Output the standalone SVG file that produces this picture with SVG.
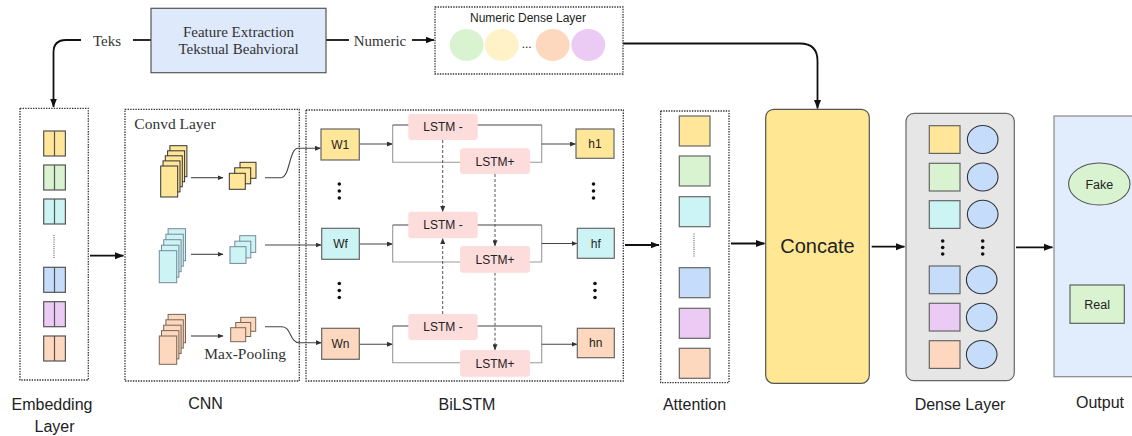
<svg xmlns="http://www.w3.org/2000/svg" width="1132" height="436" viewBox="0 0 1132 436">
<style>
.dot{fill:none;stroke:#333;stroke-width:1.3;stroke-dasharray:1.4 1.2}
.serif{font-family:"Liberation Serif","Times New Roman",serif;fill:#333}
.sans{font-family:"Liberation Sans",Arial,sans-serif;fill:#222}
.lbl{font-family:"Liberation Sans",Arial,sans-serif;font-size:16px;fill:#222;text-anchor:middle}
.box{stroke:#666;stroke-width:1.2}
.yel{fill:#ffe699}.grn{fill:#d9f2cf}.cyn{fill:#ccf4f4}.blu{fill:#c5dcfb}.pur{fill:#ebcbf4}.org{fill:#fdd8bf}
.lstm{fill:#fddcdc;stroke:none}
.lt{font-family:"Liberation Sans",Arial,sans-serif;font-size:12px;fill:#222;text-anchor:middle}
.main{fill:none;stroke:#111;stroke-width:1.8}
.thin{fill:none;stroke:#444;stroke-width:1.1}
.light{fill:none;stroke:#999;stroke-width:1.1}
.dash{fill:none;stroke:#555;stroke-width:1;stroke-dasharray:3 2}
.vd{fill:none;stroke:#444;stroke-width:1;stroke-dasharray:1 1.2}
</style>
<defs>
<marker id="ah" markerUnits="userSpaceOnUse" markerWidth="9" markerHeight="8" refX="8.5" refY="4" orient="auto"><path d="M0,0.5 L9,4 L0,7.5 z" fill="#111"/></marker>
<marker id="as" markerUnits="userSpaceOnUse" markerWidth="6" markerHeight="5" refX="5.5" refY="2.5" orient="auto"><path d="M0,0 L6,2.5 L0,5 z" fill="#333"/></marker>
</defs>

<g id="connectors">
<path class="main" d="M81,40 H66 Q53.5,40 53.5,52.5 V107" marker-end="url(#ah)"/>
<path class="main" d="M133,40 H151"/>
<path class="main" d="M326,40 H349"/>
<path class="main" d="M412,40 H434" marker-end="url(#ah)"/>
<path class="main" d="M623,43.5 H800 Q817.5,43.5 817.5,61 V108.5" marker-end="url(#ah)"/>
<path class="main" d="M90,255.7 H123.5" marker-end="url(#ah)"/>
<path class="main" d="M625,245 H659" marker-end="url(#ah)"/>
<path class="main" d="M731,243.5 H764.5" marker-end="url(#ah)"/>
<path class="main" d="M871.7,246.7 H904.5" marker-end="url(#ah)"/>
<path class="main" d="M1016,247.3 H1052.5" marker-end="url(#ah)"/>
<!-- CNN internal -->
<path class="thin" d="M191,177.7 H223" marker-end="url(#as)"/>
<path class="thin" d="M191,254.3 H223" marker-end="url(#as)"/>
<path class="thin" d="M191,336 H223" marker-end="url(#as)"/>
<path class="thin" d="M265,177.7 H281 C290,177.7 289,148.3 298,148.3 H320.5" marker-end="url(#as)"/>
<path class="thin" d="M265,245 H321" marker-end="url(#as)"/>
<path class="thin" d="M265,326.7 H282 C291,326.7 290,342.7 299,342.7 H321.3" marker-end="url(#as)"/>
<!-- BiLSTM group 1 -->
<path class="thin" d="M359.3,144 H392.5" marker-end="url(#as)"/>
<path class="light" d="M392.7,125 V162.3 H541.7 V125"/>
<path class="thin" d="M392.7,125 H541.7"/>
<path class="thin" d="M541.7,144 H575.5" marker-end="url(#as)"/>
<!-- group 2 -->
<path class="thin" d="M359.3,244 H392.5" marker-end="url(#as)"/>
<path class="light" d="M392.7,225 V262 H541.7 V225"/>
<path class="thin" d="M392.7,225 H541.7"/>
<path class="thin" d="M541.7,243.5 H577" marker-end="url(#as)"/>
<!-- group 3 -->
<path class="thin" d="M359.3,344.3 H392.5" marker-end="url(#as)"/>
<path class="light" d="M392.7,326 V362.7 H541.7 V326"/>
<path class="thin" d="M392.7,326 H541.7"/>
<path class="thin" d="M541.7,344.3 H577" marker-end="url(#as)"/>
<!-- dashed vertical -->
<path class="dash" d="M442.7,140 V211.5" marker-end="url(#as)"/>
<path class="dash" d="M495,174 V245.8" marker-end="url(#as)"/>
<path class="dash" d="M442.7,314 V238.5" marker-end="url(#as)"/>
<path class="dash" d="M495,272.7 V349.8" marker-end="url(#as)"/>
</g>

<g id="feature-extraction">
<rect x="151" y="8.3" width="175" height="64.4" fill="#dee9fb" stroke="#555" stroke-width="1.2"/>
<text class="serif" x="238.5" y="36.5" font-size="15" text-anchor="middle">Feature Extraction</text>
<text class="serif" x="238.5" y="54" font-size="15" text-anchor="middle">Tekstual Beahvioral</text>
</g>
<g id="label-teks"><text class="serif" x="107" y="45.5" font-size="15" text-anchor="middle">Teks</text></g>
<g id="label-numeric"><text class="serif" x="380" y="45.5" font-size="15" text-anchor="middle">Numeric</text></g>

<g id="numeric-dense">
<rect class="dot" x="435" y="7" width="188" height="67"/>
<text class="sans" x="528" y="22" font-size="12" text-anchor="middle">Numeric Dense Layer</text>
<ellipse cx="466.7" cy="45" rx="17" ry="16" fill="#d9f2cf"/>
<ellipse cx="501.7" cy="45" rx="17" ry="16" fill="#fff2c8"/>
<text class="sans" x="526.7" y="48" font-size="12" text-anchor="middle" fill="#555">...</text>
<ellipse cx="552.7" cy="45" rx="17" ry="16" fill="#fdd8bf"/>
<ellipse cx="588.3" cy="45" rx="17" ry="16" fill="#ebcbf4"/>
</g>

<g id="embedding-layer">
<rect class="dot" x="20" y="108.3" width="68.3" height="271.7"/>
<g stroke="#555" stroke-width="1.2">
<rect class="yel" x="43.7" y="131" width="21.7" height="25"/><line x1="54.5" y1="131" x2="54.5" y2="156"/>
<rect class="grn" x="43.7" y="165" width="21.7" height="25"/><line x1="54.5" y1="165" x2="54.5" y2="190"/>
<rect class="cyn" x="43.7" y="199" width="21.7" height="25"/><line x1="54.5" y1="199" x2="54.5" y2="224"/>
<rect class="blu" x="43.7" y="267.3" width="21.7" height="25"/><line x1="54.5" y1="267.3" x2="54.5" y2="292.3"/>
<rect class="pur" x="43.7" y="301.7" width="21.7" height="25"/><line x1="54.5" y1="301.7" x2="54.5" y2="326.7"/>
<rect class="org" x="43.7" y="336" width="21.7" height="25"/><line x1="54.5" y1="336" x2="54.5" y2="361"/>
</g>
<line class="vd" x1="54" y1="235" x2="54" y2="259"/>
</g>

<g id="cnn">
<rect class="dot" x="125" y="109.3" width="174.3" height="271.7"/>
<text class="serif" x="134.3" y="129" font-size="15.5">Convd Layer</text>
<text class="serif" x="204.3" y="358.6" font-size="15.5">Max-Pooling</text>
<g stroke="#333" stroke-width="1">
<rect class="yel" x="169.9" y="145.7" width="17" height="31"/>
<rect class="yel" x="167.6" y="150.8" width="17" height="31"/>
<rect class="yel" x="165.3" y="155.8" width="17" height="31"/>
<rect class="yel" x="163" y="160.9" width="17" height="31"/>
<rect class="yel" x="160.7" y="166" width="17" height="31"/>
<rect class="yel" x="240" y="162.3" width="16" height="16"/>
<rect class="yel" x="234.7" y="167.8" width="16" height="16"/>
<rect class="yel" x="229.3" y="173.3" width="16" height="16"/>

<rect class="cyn" x="168.1" y="228.7" width="17.4" height="32" stroke="#789"/>
<rect class="cyn" x="165.9" y="234.2" width="17.4" height="32" stroke="#789"/>
<rect class="cyn" x="163.7" y="239.7" width="17.4" height="32" stroke="#789"/>
<rect class="cyn" x="161.5" y="245.2" width="17.4" height="32" stroke="#789"/>
<rect class="cyn" x="159.3" y="250.7" width="17.4" height="32" stroke="#789"/>
<rect class="cyn" x="239.7" y="235.7" width="16" height="16.7" stroke="#789"/>
<rect class="cyn" x="234.8" y="241.2" width="16" height="16.7" stroke="#789"/>
<rect class="cyn" x="230" y="246.7" width="16" height="16.7" stroke="#789"/>

<rect class="org" x="168.1" y="314.4" width="17.4" height="28.3" stroke="#765"/>
<rect class="org" x="165.9" y="319.8" width="17.4" height="28.3" stroke="#765"/>
<rect class="org" x="163.7" y="325.2" width="17.4" height="28.3" stroke="#765"/>
<rect class="org" x="161.5" y="330.6" width="17.4" height="28.3" stroke="#765"/>
<rect class="org" x="159.3" y="336" width="17.4" height="28.3" stroke="#765"/>
<rect class="org" x="240.7" y="317.3" width="15" height="14" stroke="#765"/>
<rect class="org" x="235.7" y="322.5" width="15" height="14" stroke="#765"/>
<rect class="org" x="230.7" y="327.7" width="15" height="14" stroke="#765"/>
</g>
</g>

<g id="bilstm">
<rect class="dot" x="306" y="110" width="317.3" height="271"/>
<g class="box">
<rect class="yel" x="321" y="129" width="38.3" height="31"/>
<rect class="cyn" x="321.7" y="228.3" width="37.6" height="31"/>
<rect class="org" x="321.7" y="328.3" width="37.6" height="31"/>
<rect class="yel" x="576" y="129" width="38" height="29.3"/>
<rect class="cyn" x="577.3" y="228.3" width="37" height="30"/>
<rect class="org" x="577.3" y="328.3" width="37" height="29.4"/>
</g>
<text class="lt" x="340.2" y="148.8">W1</text>
<text class="lt" x="340.5" y="248">Wf</text>
<text class="lt" x="340.5" y="348">Wn</text>
<text class="lt" x="595" y="148">h1</text>
<text class="lt" x="595.8" y="247.5">hf</text>
<text class="lt" x="595.8" y="347.3">hn</text>
<rect class="lstm" x="408.3" y="114" width="69.4" height="26" rx="3"/>
<rect class="lstm" x="460" y="148.3" width="70" height="25.7" rx="3"/>
<rect class="lstm" x="408.3" y="211.7" width="69.4" height="26.6" rx="3"/>
<rect class="lstm" x="460" y="246" width="70" height="26.7" rx="3"/>
<rect class="lstm" x="408.3" y="314" width="69.4" height="26" rx="3"/>
<rect class="lstm" x="460" y="350" width="70" height="26.7" rx="3"/>
<text class="lt" x="443" y="131.3">LSTM -</text>
<text class="lt" x="495" y="165.5">LSTM+</text>
<text class="lt" x="443" y="229.3">LSTM -</text>
<text class="lt" x="495" y="263.7">LSTM+</text>
<text class="lt" x="443" y="331.3">LSTM -</text>
<text class="lt" x="495" y="367.7">LSTM+</text>
<g fill="#111">
<circle cx="339.3" cy="184" r="1.8"/><circle cx="339.3" cy="191" r="1.8"/><circle cx="339.3" cy="198" r="1.8"/>
<circle cx="339.3" cy="283.5" r="1.8"/><circle cx="339.3" cy="290.5" r="1.8"/><circle cx="339.3" cy="297.5" r="1.8"/>
<circle cx="593.5" cy="184" r="1.8"/><circle cx="593.5" cy="191" r="1.8"/><circle cx="593.5" cy="198" r="1.8"/>
<circle cx="595" cy="283.5" r="1.8"/><circle cx="595" cy="290.5" r="1.8"/><circle cx="595" cy="297.5" r="1.8"/>
</g>
</g>

<g id="attention">
<rect class="dot" x="660.7" y="111" width="68.3" height="271.7"/>
<g class="box">
<rect class="yel" x="679.3" y="116" width="30.7" height="30"/>
<rect class="grn" x="679.3" y="156" width="30.7" height="30"/>
<rect class="cyn" x="679.3" y="196.7" width="30.7" height="30"/>
<rect class="blu" x="679.3" y="267.7" width="30.7" height="30"/>
<rect class="pur" x="679.3" y="308.3" width="30.7" height="30"/>
<rect class="org" x="679.3" y="348.3" width="30.7" height="30"/>
</g>
<line class="vd" x1="694" y1="233.5" x2="694" y2="256.5"/>
</g>

<g id="concate">
<rect x="765.7" y="109.3" width="103.6" height="274" rx="8" fill="#ffe794" stroke="#555" stroke-width="1.2"/>
<text class="sans" x="817.5" y="253" font-size="20" text-anchor="middle" fill="#111">Concate</text>
</g>

<g id="dense-layer">
<rect x="906" y="113.3" width="108.3" height="267.4" rx="8" fill="#e6e6e6" stroke="#666" stroke-width="1.2"/>
<g class="box">
<rect class="yel" x="929.3" y="125.7" width="30.7" height="27.7"/>
<rect class="grn" x="929.3" y="163.3" width="30.7" height="27.7"/>
<rect class="cyn" x="929.3" y="200.7" width="30.7" height="27.7"/>
<rect class="blu" x="929.3" y="266" width="30.7" height="27.7"/>
<rect class="pur" x="929.3" y="303.3" width="30.7" height="27.7"/>
<rect class="org" x="929.3" y="340.7" width="30.7" height="27.7"/>
</g>
<g fill="#c5dcfb" stroke="#333" stroke-width="1.1">
<ellipse cx="982.7" cy="139.5" rx="15.3" ry="14"/>
<ellipse cx="982.7" cy="177" rx="15.3" ry="14"/>
<ellipse cx="982.7" cy="214.3" rx="15.3" ry="14"/>
<ellipse cx="981.7" cy="279.8" rx="15.3" ry="14"/>
<ellipse cx="981.7" cy="317.2" rx="15.3" ry="14"/>
<ellipse cx="981.7" cy="354.5" rx="15.3" ry="14"/>
</g>
<g fill="#111">
<circle cx="942.7" cy="241" r="1.8"/><circle cx="942.7" cy="247.5" r="1.8"/><circle cx="942.7" cy="254" r="1.8"/>
<circle cx="982.7" cy="241" r="1.8"/><circle cx="982.7" cy="247.5" r="1.8"/><circle cx="982.7" cy="254" r="1.8"/>
</g>
</g>

<g id="output">
<rect x="1054" y="116" width="95" height="260.7" fill="#e1ecfc" stroke="#888" stroke-width="1.2"/>
<ellipse cx="1099.3" cy="184" rx="30.7" ry="21" fill="#d9f2cf" stroke="#555" stroke-width="1.1"/>
<text class="sans" x="1099.3" y="188.5" font-size="12.5" text-anchor="middle">Fake</text>
<rect x="1070" y="285" width="54.3" height="38.3" fill="#d9f2cf" stroke="#555" stroke-width="1.1"/>
<text class="sans" x="1097.2" y="308.5" font-size="12.5" text-anchor="middle">Real</text>
</g>

<g id="labels">
<text class="lbl" x="52" y="410">Embedding</text>
<text class="lbl" x="54.5" y="432">Layer</text>
<text class="lbl" x="205.5" y="409">CNN</text>
<text class="lbl" x="467" y="410">BiLSTM</text>
<text class="lbl" x="694.5" y="410">Attention</text>
<text class="lbl" x="960" y="410">Dense Layer</text>
<text class="lbl" x="1100" y="408">Output</text>
</g>
</svg>
